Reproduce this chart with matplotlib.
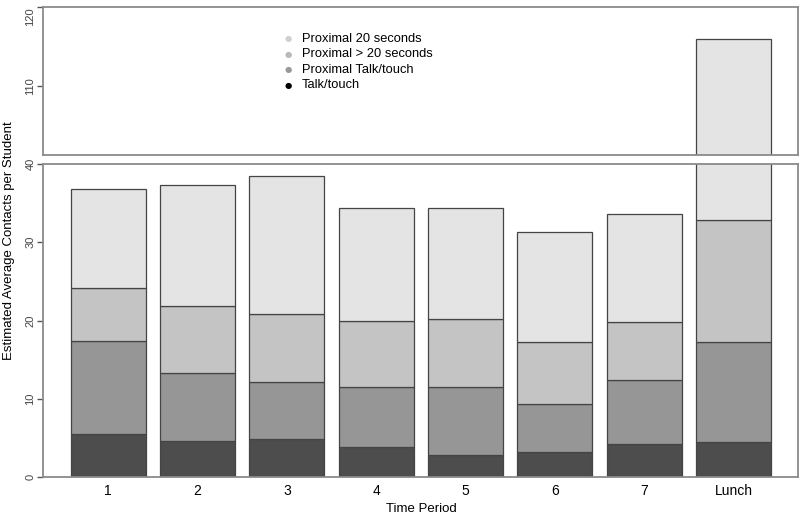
import numpy as np
import matplotlib.pyplot as plt

plt.rcParams['font.family'] = ['Liberation Sans', 'DejaVu Sans']

# data
periods = ['1', '2', '3', '4', '5', '6', '7', 'Lunch']
talk_touch = [5.5, 4.6, 4.8, 3.8, 2.8, 3.2, 4.2, 4.5]
prox_talk_touch = [11.9, 8.7, 7.3, 7.7, 8.7, 6.1, 8.2, 12.8]
prox_over_20 = [6.7, 8.5, 8.7, 8.5, 8.7, 8.0, 7.4, 15.6]
prox_20 = [12.7, 15.5, 17.7, 14.4, 14.2, 14.0, 13.8, 83.1]

series = [talk_touch, prox_talk_touch, prox_over_20, prox_20]
legend_labels = ['Proximal 20 seconds', 'Proximal > 20 seconds',
                 'Proximal Talk/touch', 'Talk/touch']
bar_colors = ['#4d4d4d', '#969696', '#c4c4c4', '#e4e4e4']
dot_colors = ['#d0d0d0', '#b8b8b8', '#999999', '#000000']
frame_col = '#8a8a8a'

fig = plt.figure(figsize=(8, 5.17), dpi=100)
ax_top = fig.add_axes([43 / 800, 1 - 155 / 517, 755 / 800, 148 / 517])
ax_bot = fig.add_axes([43 / 800, 1 - 477 / 517, 755 / 800, 313 / 517])

x = np.arange(len(periods))
for ax in (ax_top, ax_bot):
    bottom = np.zeros(len(periods))
    for vals, col in zip(series, bar_colors):
        ax.bar(x, vals, width=0.84, bottom=bottom, color=col,
               edgecolor='#444444', linewidth=0.9)
        bottom += np.array(vals)
    ax.set_xlim(-0.73, 7.72)
    for s in ax.spines.values():
        s.set_color(frame_col)
        s.set_linewidth(1.3)
    ax.tick_params(axis='y', colors='#555555', labelcolor='#444444',
                   length=4.5, width=1, labelsize=8, pad=1)

ax_bot.set_ylim(0, 40)
ax_bot.set_yticks([0, 10, 20, 30, 40])
ax_bot.set_yticklabels(['0', '10', '20', '30', '40'], rotation=90, va='center')
ax_bot.set_xticks(x)
ax_bot.set_xticklabels(periods, fontsize=10)
ax_bot.tick_params(axis='x', length=0, pad=5)

ax_top.set_ylim(101.3, 120)
ax_top.set_yticks([110, 120])
ax_top.set_yticklabels(['110', '120'], rotation=90, va='center')
ax_top.get_yticklabels()[1].set_va('top')
ax_top.set_xticks([])

# legend made of dots and text
for i, (lab, col) in enumerate(zip(legend_labels, dot_colors)):
    yy = 1 - (39 + i * 15.4) / 517
    fig.text(288 / 800, yy, '\u25cf', color=col, fontsize=6,
             ha='center', va='center', family='DejaVu Sans')
    fig.text(302 / 800, yy, lab, fontsize=9.3, ha='left', va='center')

fig.text(9 / 800, 1 - 241 / 517, 'Estimated Average Contacts per Student',
         rotation=90, ha='center', va='center', fontsize=9.5)
fig.text(421 / 800, 1 - 509 / 517, 'Time Period',
         ha='center', va='center', fontsize=9.5)

fig.savefig('out.png', dpi=100)
